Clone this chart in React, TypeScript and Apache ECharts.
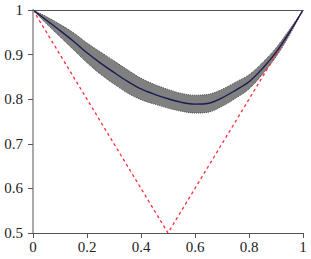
import React, { useEffect, useRef } from "react";
import * as echarts from "echarts";

const xs = [0, 0.05, 0.1, 0.15, 0.2, 0.25, 0.3, 0.35, 0.4, 0.45, 0.5, 0.55, 0.6, 0.65, 0.7, 0.75, 0.8, 0.85, 0.9, 0.95, 1];
const meanY = [1.0, 0.977, 0.954, 0.93, 0.904, 0.881, 0.86, 0.84, 0.823, 0.811, 0.801, 0.793, 0.789, 0.791, 0.803, 0.82, 0.839, 0.869, 0.905, 0.95, 1.0];
const bandHalf = [0, 0.008, 0.014, 0.019, 0.022, 0.025, 0.026, 0.026, 0.024, 0.022, 0.021, 0.02, 0.02, 0.02, 0.019, 0.018, 0.016, 0.013, 0.01, 0.006, 0];
const vX = [0, 0.5, 1];
const vY = [1, 0.5, 1];
const xTicks = [0, 0.2, 0.4, 0.6, 0.8, 1];
const yTicks = [0.5, 0.6, 0.7, 0.8, 0.9, 1];

const fmt = (v: number) => (Math.abs(v - Math.round(v)) < 1e-9 ? String(Math.round(v)) : v.toFixed(1));

export default function App() {
  const ref = useRef<HTMLDivElement>(null);
  useEffect(() => {
    if (!ref.current) return;
    const chart = echarts.init(ref.current, undefined, { renderer: "svg" });
    const lower = xs.map((x, i) => [x, meanY[i] - bandHalf[i]]);
    const upper = xs.map((x, i) => [x, meanY[i] + bandHalf[i]]);
    const mean = xs.map((x, i) => [x, meanY[i]]);
    const v = vX.map((x, i) => [x, vY[i]]);
    const font = { fontFamily: "'Liberation Serif', 'Times New Roman', serif", fontSize: 15, color: "#222" };
    const smooth = 0.35;
    chart.setOption({
      animation: false,
      grid: { left: 33, right: 8, top: 10, bottom: 26, containLabel: false },
      xAxis: [
        {
          type: "value",
          min: 0,
          max: 1,
          interval: 0.2,
          axisLine: { show: true, lineStyle: { color: "#555", width: 1 } },
          axisTick: { show: true, inside: false, length: 5, lineStyle: { color: "#555" } },
          axisLabel: { ...font, margin: 6, formatter: (v: number) => (xTicks.some((t) => Math.abs(t - v) < 1e-9) ? fmt(v) : "") },
          splitLine: { show: false },
          z: 10,
        },
        {
          type: "value",
          position: "top",
          min: 0,
          max: 1,
          axisLine: { show: true, lineStyle: { color: "#555", width: 1 } },
          axisTick: { show: false },
          axisLabel: { show: false },
          splitLine: { show: false },
          z: 10,
        },
      ],
      yAxis: [
        {
          type: "value",
          min: 0.5,
          max: 1,
          interval: 0.1,
          axisLine: { show: true, lineStyle: { color: "#555", width: 1 } },
          axisTick: { show: true, inside: false, length: 5, lineStyle: { color: "#555" } },
          axisLabel: { ...font, margin: 10, formatter: (v: number) => (yTicks.some((t) => Math.abs(t - v) < 1e-9) ? fmt(v) : "") },
          splitLine: { show: false },
          z: 10,
        },
        {
          type: "value",
          position: "right",
          min: 0.5,
          max: 1,
          axisLine: { show: true, lineStyle: { color: "#aaa", width: 2 } },
          axisTick: { show: false },
          axisLabel: { show: false },
          splitLine: { show: false },
          z: 10,
        },
      ],
      series: [
        {
          type: "line",
          data: upper,
          symbol: "none",
          smooth,
          lineStyle: { color: "#444", width: 1, type: [1, 1] },
          areaStyle: { color: "#808080", opacity: 1, origin: "start" },
          z: 1,
        },
        {
          type: "line",
          data: lower,
          symbol: "none",
          smooth,
          lineStyle: { color: "#444", width: 1, type: [1, 1] },
          areaStyle: { color: "#ffffff", opacity: 1, origin: "start" },
          z: 2,
        },
        {
          type: "line",
          data: v,
          symbol: "none",
          lineStyle: { color: "#ff2a3a", width: 1.3, type: [3, 3] },
          z: 3,
        },
        {
          type: "line",
          data: mean,
          symbol: "none",
          smooth,
          lineStyle: { color: "#1a1a55", width: 1.4 },
          z: 4,
        },
      ],
    });
    return () => chart.dispose();
  }, []);
  return <div ref={ref} style={{ width: 311, height: 259, position: "absolute", left: 0, top: 0 }} />;
}
